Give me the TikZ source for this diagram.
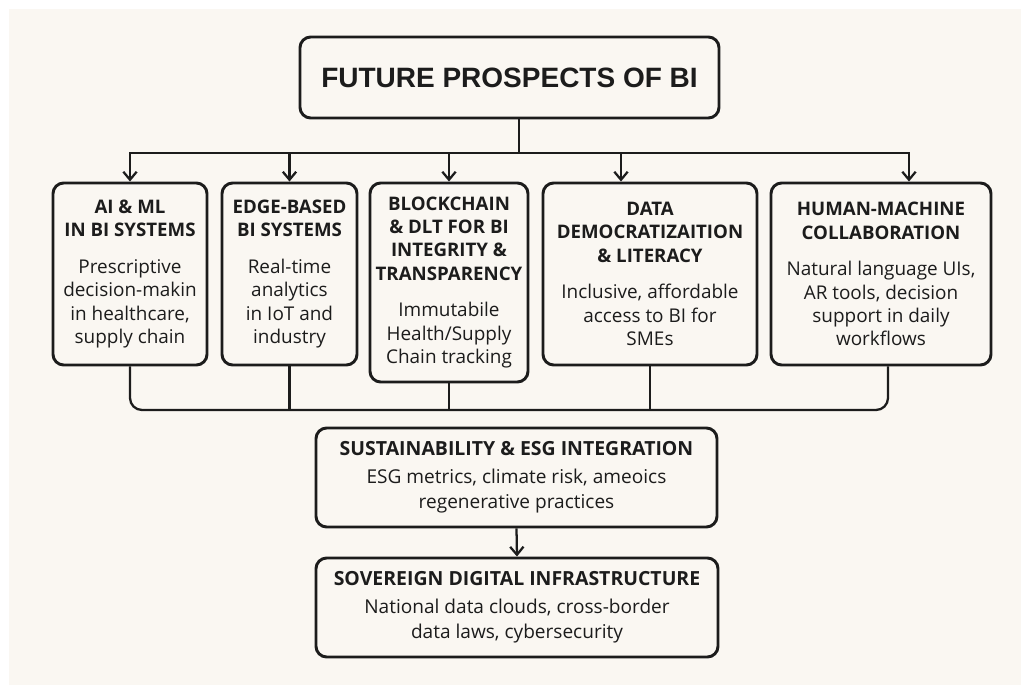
\documentclass[tikz,border=0pt]{standalone}
\usepackage{fontspec}
\setmainfont{Open Sans}
\newfontfamily\titlefont{Liberation Sans}
\usetikzlibrary{arrows.meta,calc}

\definecolor{paper}{HTML}{FAF7F2}
\definecolor{ink}{HTML}{1C1C1C}

% line spacing comes from the node font, these only switch face and size
\newcommand\hd{\bfseries\fontsize{14}{17.5}\selectfont}
\newcommand\bd{\mdseries\fontsize{14.2}{17.5}\selectfont}
\newcommand\hdlow{\bfseries\fontsize{14.6}{18.75}\selectfont}
\newcommand\bdlow{\mdseries\fontsize{14.3}{18.75}\selectfont}

\begin{document}
\begin{tikzpicture}[x=0.75pt,y=-0.75pt,
    box/.style={draw=ink, line width=2.2pt, rounded corners=8pt, align=center,
                inner sep=0pt, text=ink},
    topbox/.style={box, minimum height=136.5pt, font=\fontsize{14}{17.5}\selectfont},
    lowbox/.style={box, minimum height=74.25pt, font=\fontsize{14.3}{18.75}\selectfont},
    link/.style={draw=ink, line width=1.7pt},
    arr/.style={link, -{Straight Barb[length=6pt,width=10pt]}}]

    % page and panel
    \fill[white] (0,0) rectangle (1021,685);
    \fill[paper] (9,9) rectangle (1021,685);
    \useasboundingbox (0,0) rectangle (1021,685);

    \node[box, minimum width=314.25pt, minimum height=60.75pt] (title) at (509.5,77.5)
        {\titlefont\bfseries\fontsize{21}{25}\selectfont FUTURE PROSPECTS OF BI};

    % five trends
    \node[topbox, minimum width=115.5pt] (ai) at (130,274)
        {\hd AI \& ML\\\hd IN BI SYSTEMS\\[10pt]
         \bd Prescriptive\\\bd decision-makin\\\bd in healthcare,\\\bd supply chain};
    \node[topbox, minimum width=101.25pt] (edge) at (289.5,274)
        {\hd EDGE-BASED\\\hd BI SYSTEMS\\[10pt]
         \bd Real-time\\\bd analytics\\\bd in IoT and\\\bd industry};
    \node[topbox, minimum width=118.5pt, minimum height=149.25pt] (chain) at (449,282.5)
        {\hd BLOCKCHAIN\\\hd \& DLT FOR BI\\\hd INTEGRITY \&\\\hd TRANSPARENCY\\[10pt]
         \bd Immutabile\\\bd Health/Supply\\\bd Chain tracking};
    \node[topbox, minimum width=160.5pt] (demo) at (650,274)
        {\hd DATA\\\hd DEMOCRATIZAITION\\\hd \& LITERACY\\[10pt]
         \bd Inclusive, affordable\\\bd access to BI for\\\bd SMEs};
    \node[topbox, minimum width=165pt] (hmc) at (881,274)
        {\hd HUMAN-MACHINE\\\hd COLLABORATION\\[10pt]
         \bd Natural language UIs,\\\bd AR tools, decision\\\bd support in daily\\\bd workflows};

    % lower chain
    \node[lowbox, minimum width=300.75pt] (esg) at (516.5,477.5)
        {\hdlow SUSTAINABILITY \& ESG INTEGRATION\\[2.5pt]
         \bdlow ESG metrics, climate risk, ameoics\\\bdlow regenerative practices};
    \node[lowbox, minimum width=301.5pt] (sov) at (517,607.5)
        {\hdlow SOVEREIGN DIGITAL INFRASTRUCTURE\\[2.5pt]
         \bdlow National data clouds, cross-border\\\bdlow data laws, cybersecurity};

    % fan out from the title
    \coordinate (fork) at (519,153);
    \coordinate (demoIn) at ($(demo.north)+(-29,0)$);
    \coordinate (hmcIn) at ($(hmc.north)+(28,0)$);
    \draw[link] (title.south -| fork) -- (fork);
    \draw[arr] (fork) -| (ai.north);
    \draw[arr] (fork) -| (edge.north);
    \draw[arr] (fork) -| (chain.north);
    \draw[arr] (fork) -| (demoIn);
    \draw[arr] (fork) -| (hmcIn);

    % gather line under the trends
    \coordinate (bus) at (0,410);
    \coordinate (hmcOut) at ($(hmc.south)+(7,0)$);
    \draw[link, rounded corners=9pt] (ai.south) |- (bus -| hmcOut) -- (hmcOut);
    \draw[link] (edge.south) -- (edge.south |- bus);
    \draw[link] (chain.south) -- (chain.south |- bus);
    \draw[link] (demo.south) -- (demo.south |- bus);

    \draw[arr] (esg.south) -- (sov.north);
\end{tikzpicture}
\end{document}
